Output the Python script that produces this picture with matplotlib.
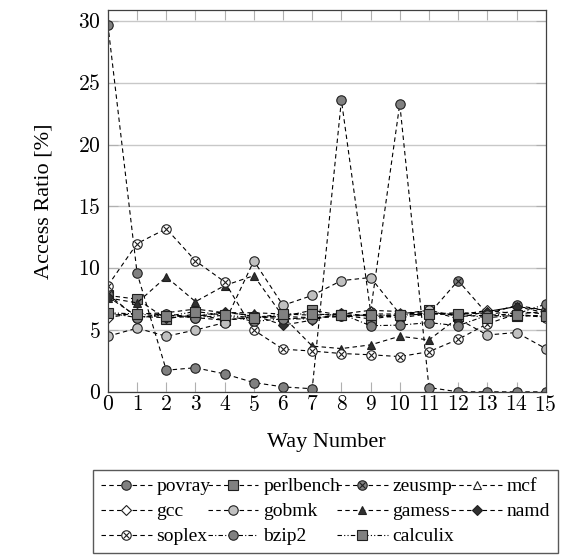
import numpy as np
import matplotlib as mpl
mpl.use('Agg')
import matplotlib.pyplot as plt
import matplotlib.ticker as ticker

plt.rcParams['font.family'] = ['Liberation Serif', 'DejaVu Serif']
plt.rcParams['mathtext.fontset'] = 'cm'

######################
## data
######################

ways = list(range(16))

povray    = [29.7, 9.6, 1.75, 1.95, 1.45, 0.75, 0.4, 0.25, 23.6, 6.5, 23.3, 0.35, 0.0, 0.0, 0.0, 0.0]
perlbench = [7.8, 7.5, 5.9, 6.3, 5.8, 6.0, 6.1, 6.6, 6.2, 5.9, 6.2, 6.6, 6.1, 6.2, 6.1, 6.2]
zeusmp    = [7.9, 6.0, 6.2, 6.0, 5.8, 6.1, 5.9, 6.0, 6.1, 6.2, 6.0, 6.3, 9.0, 6.3, 7.0, 6.6]
mcf       = [6.2, 6.3, 6.4, 6.7, 6.4, 6.4, 6.3, 6.2, 6.3, 6.6, 6.5, 6.3, 6.4, 6.3, 6.5, 6.3]
gcc       = [6.0, 6.4, 6.2, 6.1, 6.5, 6.1, 6.1, 6.0, 6.1, 6.3, 6.3, 6.4, 6.2, 6.6, 6.3, 6.5]
gobmk     = [4.5, 5.15, 4.5, 5.0, 5.6, 10.6, 7.0, 7.8, 9.0, 9.25, 6.3, 6.6, 5.9, 4.6, 4.8, 3.5]
gamess    = [7.6, 7.2, 9.3, 7.3, 8.6, 9.4, 6.1, 3.7, 3.5, 3.8, 4.5, 4.2, 6.0, 6.5, 6.9, 6.6]
namd      = [7.7, 6.1, 6.0, 6.1, 6.4, 6.2, 5.4, 5.8, 6.4, 6.1, 6.2, 6.3, 6.3, 6.5, 6.9, 6.4]
soplex    = [8.6, 12.0, 13.2, 10.6, 8.9, 5.0, 3.45, 3.3, 3.1, 3.0, 2.85, 3.25, 4.25, 5.5, 6.3, 6.0]
bzip2     = [6.4, 6.0, 6.3, 6.0, 6.2, 5.7, 5.9, 5.9, 6.3, 5.35, 5.4, 5.6, 5.35, 6.2, 6.3, 7.1]
calculix  = [6.4, 6.3, 6.1, 6.5, 6.2, 6.0, 6.3, 6.3, 6.2, 6.2, 6.2, 6.3, 6.3, 6.0, 6.2, 6.1]

DARK = '#808080'
LIGHT = '#c0c0c0'
dashed = (0, (4, 3))
dashdotdot = (0, (4, 2, 1, 2, 1, 2))
dashdot = (0, (4, 2, 1, 2))

# name, values, marker, facecolor, linestyle
series = [
    ('povray', povray, 'o', DARK, dashed),
    ('perlbench', perlbench, 's', DARK, dashed),
    ('zeusmp', zeusmp, 'o', DARK, dashed),
    ('mcf', mcf, '^', 'white', dashed),
    ('gcc', gcc, 'D', 'white', dashed),
    ('gobmk', gobmk, 'o', LIGHT, dashed),
    ('gamess', gamess, '^', '#303030', dashed),
    ('namd', namd, 'D', '#303030', dashed),
    ('soplex', soplex, 'o', 'white', dashed),
    ('bzip2', bzip2, 'o', DARK, dashdot),
    ('calculix', calculix, 's', DARK, dashdotdot),
]

fig = plt.figure(figsize=(5.62, 5.55), dpi=100)
ax = fig.add_axes([0.192, 0.294, 0.779, 0.688])

handles = {}
for name, vals, mk, fc, ls in series:
    ms = 6.8
    if mk == 'D' or mk == '^':
        ms = 5.5
    h, = ax.plot(ways, vals, linestyle=ls, color='black', linewidth=0.8,
                 marker=mk, markersize=ms, markerfacecolor=fc,
                 markeredgecolor='#202020', markeredgewidth=0.8, label=name)
    if name in ('zeusmp', 'soplex'):
        # crossed circle
        ax.plot(ways, vals, linestyle='none', marker='x', markersize=4.4,
                color='#202020', markeredgewidth=0.8)
        h = (h, ax.plot([], [], linestyle='none', marker='x', markersize=4.4,
                        color='#202020', markeredgewidth=0.8)[0])
    handles[name] = h

######################
## axes
######################

ax.set_xlim(0, 15)
ax.set_ylim(0, 30.9)
ax.set_xticks(ways)
ax.set_yticks(range(0, 31, 5))
ax.xaxis.set_major_formatter(ticker.FuncFormatter(lambda v, p: '$%d$' % v))
ax.yaxis.set_major_formatter(ticker.FuncFormatter(lambda v, p: '$%d$' % v))
ax.tick_params(axis='both', direction='in', labelsize=15.5, length=7, width=0.8,
               color='#b0b0b0', top=True, right=True)
ax.tick_params(axis='x', pad=3)
ax.tick_params(axis='y', pad=5)
ax.grid(axis='y', color='#c8c8c8', linewidth=1.0)
ax.set_axisbelow(True)
for s in ax.spines.values():
    s.set_color('#404040')
    s.set_linewidth(0.9)

ax.set_xlabel('Way Number', fontsize=16, labelpad=12)
ax.set_ylabel('Access Ratio [%]', fontsize=16, labelpad=18)

######################
## legend
######################

order = ['povray', 'gcc', 'soplex', 'perlbench', 'gobmk', 'bzip2',
         'zeusmp', 'gamess', 'calculix', 'mcf', 'namd']
leg = fig.legend([handles[n] for n in order], order, ncol=4,
                 loc='upper left', bbox_to_anchor=(0.166, 0.153, 0.827, 0.0),
                 mode='expand', fontsize=14, frameon=True, fancybox=False,
                 edgecolor='#303030', borderpad=0.4, labelspacing=0.38,
                 handlelength=2.6, handletextpad=0.25, columnspacing=0.4,
                 borderaxespad=0)
leg.get_frame().set_linewidth(1.0)

plt.savefig('out.png')
